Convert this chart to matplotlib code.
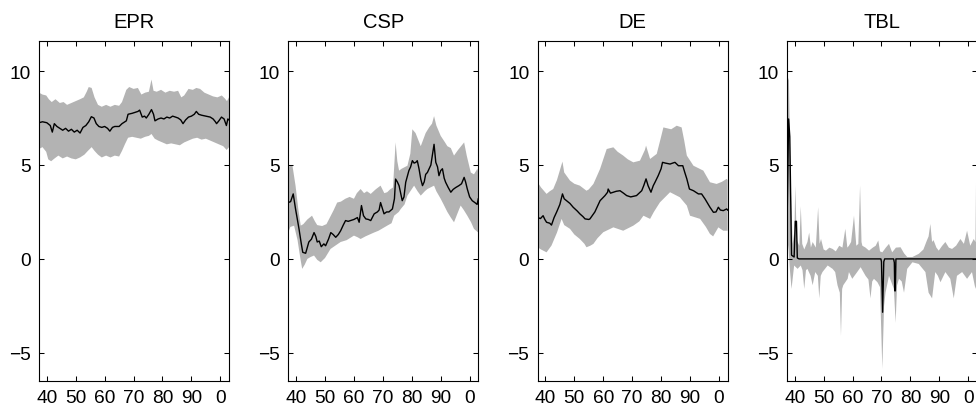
import matplotlib
matplotlib.use('Agg')
import matplotlib.pyplot as plt
import numpy as np

plt.rcParams['font.family'] = ['Liberation Sans', 'DejaVu Sans']

# panel titles and x tick labels (year mod 100)
titles = ['EPR', 'CSP', 'DE', 'TBL']
xticks = [1940, 1950, 1960, 1970, 1980, 1990, 2000]
xticklabels = ['40', '50', '60', '70', '80', '90', '0']
yticks = [-5, 0, 5, 10]

# ---- EPR ----
epr_x = [1937.3, 1938.5, 1940.0, 1941.2, 1941.9, 1942.6, 1943.5, 1944.5, 1945.5, 1946.5,
         1947.5, 1948.5, 1949.5, 1950.5, 1951.5, 1952.5, 1953.5, 1954.5, 1955.4, 1956.3,
         1957.1, 1958.0, 1959.0, 1960.0, 1961.0, 1961.8, 1962.7, 1963.5, 1965.0, 1966.0,
         1967.5, 1968.1, 1969.5, 1970.5, 1971.5, 1972.1, 1973.0, 1973.8, 1974.4, 1975.3,
         1976.2, 1976.9, 1977.4, 1978.5, 1979.5, 1980.5, 1981.5, 1982.5, 1983.5, 1984.5,
         1985.4, 1986.3, 1987.1, 1988.0, 1989.0, 1990.0, 1991.0, 1991.7, 1992.5, 1993.5,
         1995.0, 1996.5, 1997.5, 1998.3, 1998.7, 1999.5, 2000.4, 2001.3, 2002.1, 2002.6, 2003.0]
epr = [7.25, 7.3, 7.25, 7.1, 6.75, 7.2, 7.05, 6.95, 6.85, 6.95,
       6.8, 6.9, 6.75, 6.85, 6.7, 7.0, 7.1, 7.3, 7.57, 7.5,
       7.2, 7.05, 7.0, 7.05, 6.95, 6.8, 7.0, 7.05, 7.05, 7.2,
       7.35, 7.7, 7.75, 7.8, 7.85, 7.92, 7.55, 7.6, 7.5, 7.7,
       7.95, 7.7, 7.35, 7.45, 7.5, 7.45, 7.55, 7.5, 7.6, 7.55,
       7.5, 7.4, 7.2, 7.4, 7.55, 7.6, 7.7, 7.85, 7.7, 7.65,
       7.6, 7.55, 7.45, 7.3, 7.2, 7.35, 7.55, 7.45, 7.1, 7.45, 7.4]
epr_hi_x = [1937.3, 1938.5, 1939.8, 1940.7, 1941.7, 1943.0, 1944.5, 1945.8, 1947.0, 1948.5,
            1950.0, 1951.5, 1952.8, 1953.8, 1954.5, 1955.5, 1956.5, 1957.7, 1959.0, 1960.5,
            1962.0, 1963.5, 1965.0, 1966.0, 1967.5, 1968.5, 1970.0, 1971.5, 1972.7, 1974.0,
            1975.3, 1976.2, 1976.9, 1978.0, 1979.5, 1981.0, 1982.5, 1984.0, 1985.4, 1986.5,
            1987.5, 1989.0, 1990.5, 1991.7, 1993.0, 1994.5, 1996.0, 1997.5, 1999.0, 2000.5,
            2001.5, 2002.3, 2003.0]
epr_hi = [8.85, 8.75, 8.7, 8.5, 8.35, 8.5, 8.3, 8.35, 8.2, 8.3,
          8.4, 8.5, 8.6, 8.9, 9.15, 9.1, 8.6, 8.2, 8.1, 8.2,
          8.1, 8.2, 8.15, 8.35, 9.0, 9.15, 9.05, 9.1, 8.75, 8.85,
          8.9, 9.55, 8.95, 8.9, 9.0, 8.85, 8.95, 8.9, 8.95, 8.6,
          8.7, 9.05, 9.0, 9.1, 9.05, 8.85, 8.75, 8.65, 8.6, 8.7,
          8.55, 8.4, 8.6]
epr_lo_x = [1937.3, 1938.5, 1939.8, 1940.5, 1941.5, 1942.7, 1944.0, 1945.5, 1947.0, 1948.5,
            1950.0, 1951.5, 1953.0, 1954.2, 1955.5, 1956.5, 1957.7, 1959.0, 1960.5, 1962.0,
            1963.5, 1965.0, 1966.0, 1967.0, 1968.1, 1969.5, 1971.0, 1972.5, 1974.0, 1975.3,
            1976.2, 1977.3, 1978.5, 1980.0, 1981.5, 1983.0, 1984.5, 1986.0, 1987.5, 1989.0,
            1990.5, 1992.0, 1993.5, 1995.0, 1996.5, 1998.0, 1999.5, 2001.0, 2002.2, 2003.0]
epr_lo = [5.85, 5.95, 5.7, 5.3, 5.2, 5.35, 5.5, 5.35, 5.45, 5.35,
          5.3, 5.4, 5.55, 5.75, 5.95, 5.75, 5.55, 5.4, 5.5, 5.4,
          5.5, 5.45, 5.75, 6.1, 6.45, 6.5, 6.45, 6.4, 6.5, 6.55,
          6.65, 6.4, 6.3, 6.2, 6.1, 6.15, 6.1, 6.05, 6.2, 6.3,
          6.4, 6.45, 6.35, 6.4, 6.3, 6.2, 6.1, 6.0, 5.8, 5.95]

# ---- CSP ----
csp_x = [1937.3, 1938.1, 1939.0, 1939.8, 1941.0, 1941.8, 1942.3, 1943.3, 1944.4, 1945.3,
         1946.2, 1946.8, 1947.3, 1948.0, 1948.7, 1949.6, 1950.2, 1951.2, 1952.0, 1952.8,
         1953.7, 1954.6, 1955.4, 1956.3, 1957.1, 1958.0, 1959.0, 1960.0, 1961.2, 1961.8,
         1962.6, 1963.3, 1964.1, 1965.0, 1965.8, 1967.0, 1968.1, 1968.7, 1969.2, 1970.4,
         1971.3, 1972.1, 1973.3, 1974.0, 1974.4, 1975.0, 1975.6, 1976.7, 1977.3, 1977.9,
         1979.0, 1979.6, 1980.2, 1980.8, 1981.4, 1981.9, 1982.5, 1983.1, 1983.7, 1984.3,
         1984.8, 1985.4, 1986.0, 1986.6, 1987.1, 1987.7, 1988.3, 1988.9, 1989.4, 1990.0,
         1990.6, 1991.2, 1991.7, 1992.6, 1993.5, 1994.3, 1995.2, 1996.3, 1997.2, 1998.1,
         1998.6, 1999.2, 2000.0, 2000.9, 2001.8, 2002.6, 2003.0]
csp = [3.0, 3.05, 3.46, 2.66, 1.6, 0.8, 0.35, 0.3, 0.9, 1.05,
       1.4, 1.2, 0.9, 0.95, 0.65, 0.8, 0.7, 1.05, 1.4, 1.3,
       1.15, 1.3, 1.5, 1.8, 2.04, 2.0, 2.05, 2.1, 2.2, 1.95,
       2.84, 2.3, 2.13, 2.1, 2.04, 2.4, 2.5, 2.6, 3.0, 2.4,
       2.5, 2.5, 2.66, 3.2, 4.25, 4.1, 3.9, 3.1, 3.3, 4.08,
       4.7, 4.9, 5.23, 5.1, 5.14, 5.23, 4.8, 4.25, 3.9, 4.1,
       4.5, 4.6, 4.8, 5.0, 5.5, 6.1, 5.14, 4.9, 4.43, 4.7,
       4.8, 4.3, 4.08, 3.8, 3.55, 3.7, 3.8, 3.9, 4.0, 4.34,
       4.1, 3.72, 3.3, 3.1, 3.0, 2.9, 3.2]
csp_hi_x = [1937.3, 1938.7, 1939.8, 1940.8, 1941.6, 1942.5, 1943.9, 1945.5, 1946.5, 1947.3,
            1949.0, 1950.5, 1952.0, 1953.0, 1954.2, 1955.5, 1957.0, 1958.5, 1960.0, 1961.0,
            1962.3, 1963.5, 1964.5, 1965.8, 1967.5, 1969.2, 1970.5, 1971.5, 1972.5, 1973.5,
            1974.4, 1975.0, 1975.6, 1976.5, 1978.5, 1979.5, 1980.2, 1981.3, 1983.1, 1984.8,
            1986.0, 1987.0, 1987.7, 1988.5, 1990.0, 1991.5, 1992.3, 1993.5, 1994.6, 1996.0,
            1998.1, 1999.0, 2000.4, 2001.5, 2002.7, 2003.0]
csp_hi = [4.9, 5.0, 3.9, 2.6, 1.77, 1.85, 2.1, 2.3, 2.0, 1.8,
          1.75, 1.85, 2.3, 2.6, 3.0, 3.05, 3.2, 3.3, 3.2, 3.5,
          3.72, 3.5, 3.6, 3.46, 3.7, 3.9, 3.5, 3.55, 3.7, 3.8,
          6.2, 5.2, 4.7, 4.8, 4.96, 5.6, 6.9, 6.7, 6.0, 6.7,
          7.0, 7.2, 7.6, 7.1, 6.55, 6.2, 6.0, 5.9, 5.5, 5.8,
          6.2, 5.5, 4.6, 4.5, 4.8, 4.6]
csp_lo_x = [1937.3, 1938.0, 1939.3, 1940.5, 1941.5, 1942.1, 1943.0, 1943.9, 1945.0, 1946.2,
            1947.3, 1948.5, 1950.0, 1951.9, 1953.5, 1955.4, 1957.5, 1960.0, 1961.3, 1962.3,
            1964.0, 1966.9, 1968.5, 1971.5, 1973.0, 1973.9, 1975.5, 1976.2, 1977.5, 1978.5,
            1980.8, 1982.0, 1983.1, 1984.5, 1985.4, 1987.7, 1988.5, 1990.0, 1991.0, 1992.3,
            1993.5, 1994.6, 1996.0, 1996.9, 1998.0, 1999.2, 2000.5, 2001.5, 2003.0]
csp_lo = [1.4, 1.7, 1.77, 1.0, 0.0, -0.53, -0.3, 0.0, 0.1, 0.18,
          -0.05, -0.18, 0.05, 0.53, 0.7, 0.9, 1.0, 1.24, 1.15, 1.06,
          1.2, 1.4, 1.5, 1.77, 1.9, 2.3, 2.5, 2.66, 2.9, 3.37,
          3.9, 3.6, 3.37, 3.6, 3.72, 3.9, 3.6, 3.2, 2.9, 2.5,
          2.2, 1.95, 2.5, 2.84, 2.6, 2.3, 1.95, 1.6, 1.4]

# ---- DE ----
de_x = [1937.3, 1938.3, 1939.2, 1939.8, 1940.4, 1941.5, 1942.1, 1943.0, 1943.9, 1945.0,
        1945.9, 1946.5, 1947.3, 1948.5, 1949.6, 1951.0, 1951.9, 1953.0, 1953.7, 1955.0,
        1955.4, 1957.1, 1958.9, 1960.6, 1961.5, 1961.7, 1962.5, 1963.5, 1964.5, 1965.8,
        1967.0, 1968.1, 1969.5, 1971.5, 1973.3, 1974.0, 1974.8, 1975.5, 1976.5, 1977.3,
        1977.9, 1979.0, 1980.0, 1980.5, 1981.5, 1983.1, 1984.0, 1984.8, 1986.0, 1987.5,
        1988.2, 1988.9, 1989.8, 1991.2, 1992.9, 1994.0, 1995.2, 1996.9, 1998.1, 1999.0,
        1999.8, 2000.5, 2001.5, 2002.7, 2003.0]
de = [2.2, 2.15, 2.3, 2.1, 1.95, 1.9, 1.8, 2.2, 2.5, 2.9,
      3.46, 3.2, 3.1, 2.95, 2.75, 2.55, 2.4, 2.25, 2.13, 2.1,
      2.13, 2.5, 3.1, 3.37, 3.55, 3.72, 3.5, 3.55, 3.6, 3.63,
      3.5, 3.37, 3.3, 3.37, 3.63, 3.9, 4.26, 3.9, 3.55, 3.9,
      4.08, 4.43, 4.8, 5.14, 5.1, 5.05, 5.1, 5.14, 4.96, 4.96,
      4.6, 4.26, 3.72, 3.63, 3.46, 3.46, 3.19, 2.75, 2.48, 2.5,
      2.75, 2.6, 2.57, 2.66, 2.6]
de_hi_x = [1937.3, 1938.5, 1940.4, 1941.5, 1942.7, 1944.0, 1945.9, 1946.5, 1948.5, 1950.0,
           1951.9, 1954.2, 1955.0, 1956.6, 1957.5, 1958.9, 1960.0, 1961.2, 1963.5, 1965.0,
           1966.9, 1968.5, 1970.4, 1972.7, 1974.4, 1974.8, 1976.2, 1978.5, 1980.0, 1980.8,
           1983.5, 1985.4, 1987.1, 1988.0, 1988.9, 1991.2, 1994.6, 1996.9, 1999.2, 2001.0,
           2002.7, 2003.0]
de_hi = [4.08, 3.8, 3.46, 3.6, 3.72, 4.2, 5.18, 4.6, 4.17, 4.0,
         3.9, 3.63, 3.7, 3.99, 4.3, 4.79, 5.3, 5.85, 5.94, 5.7,
         5.5, 5.3, 5.14, 5.23, 5.8, 6.03, 5.32, 5.59, 6.5, 7.0,
         6.9, 7.09, 7.0, 6.3, 5.5, 4.96, 4.7, 4.08, 3.99, 4.1,
         4.26, 4.2]
de_lo_x = [1937.3, 1938.5, 1940.4, 1942.1, 1944.0, 1945.6, 1946.5, 1948.5, 1950.0, 1951.9,
           1953.5, 1954.2, 1955.5, 1956.6, 1958.0, 1960.0, 1963.5, 1966.9, 1970.4, 1972.5,
           1973.9, 1976.2, 1977.5, 1979.6, 1983.1, 1986.5, 1988.9, 1990.0, 1993.5, 1995.5,
           1996.9, 1998.0, 1999.8, 2001.5, 2003.0]
de_lo = [0.62, 0.5, 0.35, 0.71, 1.4, 2.13, 1.8, 1.6, 1.3, 1.06,
         0.8, 0.62, 0.7, 0.8, 1.1, 1.42, 1.68, 1.5, 1.77, 2.0,
         2.3, 2.13, 2.5, 3.01, 3.55, 3.28, 2.84, 2.3, 2.13, 1.7,
         1.33, 1.2, 1.68, 1.5, 1.5]

# ---- TBL ----
tbl_x = [1937.3, 1937.9, 1938.3, 1938.9, 1939.8, 1940.2, 1940.6, 1940.9, 1941.5, 1969.8,
         1970.0, 1970.4, 1970.8, 1971.1, 1974.2, 1974.45, 1974.6, 1974.8, 1975.0, 2003.0]
tbl = [1.3, 7.45, 6.5, 0.2, 0.1, 2.0, 2.0, 0.05, 0.0, 0.0,
       -0.15, -2.84, -0.15, 0.0, 0.0, -0.2, -1.7, -1.7, 0.0, 0.0]
tbl_hi_x = [1937.3, 1938.0, 1938.6, 1939.3, 1939.9, 1940.2, 1940.7, 1941.6, 1942.1, 1942.6,
            1943.3, 1944.4, 1945.0, 1945.6, 1946.2, 1947.3, 1948.1, 1948.6, 1949.1, 1950.0,
            1950.8, 1952.0, 1953.1, 1954.2, 1955.4, 1956.5, 1957.5, 1958.2, 1958.75, 1959.5,
            1960.5, 1961.3, 1962.0, 1962.6, 1963.1, 1963.4, 1964.5, 1965.7, 1967.0, 1968.0,
            1968.9, 1969.5, 1970.3, 1971.5, 1972.6, 1973.7, 1975.0, 1976.6, 1977.8, 1978.9,
            1980.7, 1982.9, 1984.5, 1985.7, 1986.3, 1986.9, 1987.5, 1988.0, 1989.0, 1989.8,
            1991.0, 1992.1, 1993.3, 1994.4, 1995.8, 1997.3, 1998.5, 1999.6, 2000.7, 2001.9,
            2002.5, 2002.75, 2003.0]
tbl_hi = [9.8, 9.5, 4.0, 0.8, 1.5, 3.9, 1.0, 0.7, 2.8, 0.8,
          0.5, 0.9, 1.4, 0.6, 0.9, 0.6, 2.75, 0.8, 1.06, 0.5,
          0.44, 0.6, 0.53, 0.4, 0.7, 0.6, 1.6, 0.6, 0.7, 0.9,
          2.3, 0.7, 0.8, 3.9, 0.9, 0.7, 0.6, 0.44, 0.6, 0.7,
          0.98, 0.4, 0.35, 0.6, 0.8, 0.35, 0.6, 0.62, 0.3, 0.1,
          0.1, 0.27, 0.5, 0.98, 1.2, 1.86, 0.9, 1.0, 0.6, 0.44,
          0.7, 0.9, 0.6, 0.53, 0.7, 1.06, 0.8, 1.5, 0.7, 1.06,
          0.9, 5.0, 1.0]
tbl_lo_x = [1937.3, 1937.9, 1938.3, 1938.9, 1939.8, 1941.0, 1942.1, 1942.7, 1943.3, 1943.9,
            1944.4, 1945.5, 1946.2, 1947.1, 1948.0, 1948.5, 1949.0, 1949.6, 1951.4, 1953.1,
            1954.0, 1954.8, 1955.6, 1956.0, 1956.4, 1956.8, 1958.3, 1958.75, 1959.9, 1961.6,
            1962.8, 1964.5, 1965.5, 1966.2, 1966.8, 1967.4, 1968.6, 1969.5, 1970.3, 1970.9,
            1971.4, 1972.6, 1974.3, 1974.9, 1975.4, 1976.05, 1977.0, 1977.8, 1978.9, 1980.7,
            1982.9, 1985.2, 1986.3, 1987.5, 1988.6, 1989.5, 1990.4, 1992.1, 1993.8, 1995.0,
            1996.1, 1997.9, 1999.6, 2001.3, 2002.5, 2003.0]
tbl_lo = [1.2, 0.5, -0.5, -1.6, -0.35, -0.53, -0.35, -0.6, -1.6, -0.6,
          -0.53, -0.9, -1.4, -0.7, -0.9, -2.1, -0.9, -0.7, -0.35, -0.53,
          -0.7, -1.4, -1.8, -4.1, -1.6, -1.4, -1.06, -0.7, -1.06, -0.7,
          -0.44, -0.9, -1.1, -2.1, -1.2, -1.06, -1.24, -1.5, -5.85, -2.5,
          -1.8, -0.9, -1.6, -3.4, -1.4, -1.06, -1.2, -1.8, -0.53, -0.18,
          -0.27, -0.7, -1.8, -2.1, -0.7, -0.9, -1.24, -0.7, -1.06, -2.1,
          -0.9, -0.7, -1.06, -0.7, -1.6, -1.2]

panels = [
    (epr_x, epr, epr_hi_x, epr_hi, epr_lo_x, epr_lo),
    (csp_x, csp, csp_hi_x, csp_hi, csp_lo_x, csp_lo),
    (de_x, de, de_hi_x, de_hi, de_lo_x, de_lo),
    (tbl_x, tbl, tbl_hi_x, tbl_hi, tbl_lo_x, tbl_lo),
]

W, H = 976, 414
fig = plt.figure(figsize=(W / 100, H / 100), dpi=100)

for i, (title, p) in enumerate(zip(titles, panels)):
    x, y, xu, yu, xl, yl = p
    left = 39 + 249.3 * i
    ax = fig.add_axes([left / W, 32 / H, 190 / W, 340 / H])
    # confidence band as one polygon: upper edge then lower edge reversed
    ax.fill(np.r_[xu, xl[::-1]], np.r_[yu, yl[::-1]], color='#b3b3b3', lw=0)
    ax.plot(x, y, color='k', lw=1)
    ax.set_xlim(1937.3, 2003.0)
    ax.set_ylim(-6.5, 11.6)
    ax.set_xticks(xticks)
    ax.set_xticklabels(xticklabels)
    ax.set_yticks(yticks)
    ax.tick_params(direction='in', top=True, right=True, length=3.5, width=0.75,
                   labelsize=13.8, pad=6)
    for s in ax.spines.values():
        s.set_linewidth(0.8)
    ax.set_title(title, fontsize=14.5, pad=10)

fig.savefig('out.png', dpi=100)
